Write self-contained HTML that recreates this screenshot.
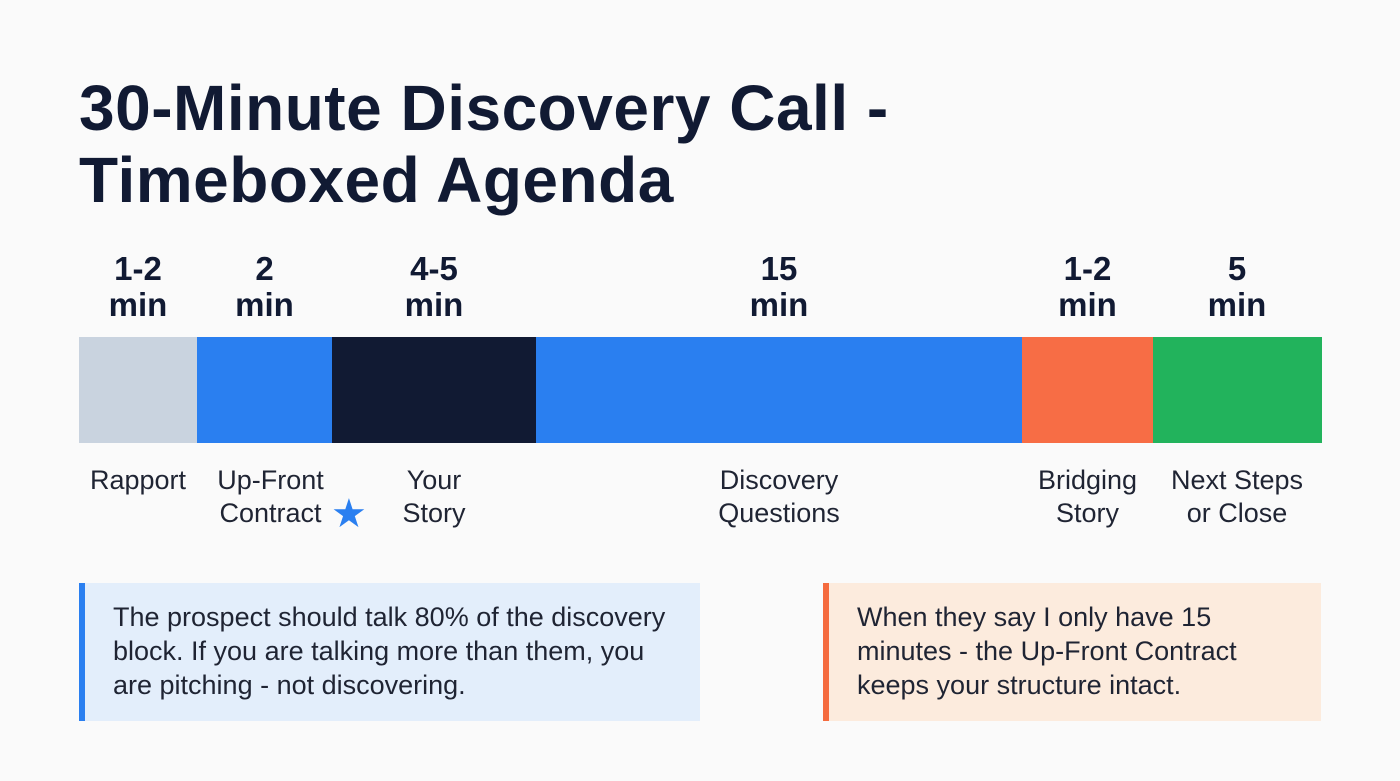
<!DOCTYPE html>
<html><head><meta charset="utf-8"><style>
body{margin:0;width:1400px;height:781px;background:#fafafa;font-family:"Liberation Sans",sans-serif;color:#111a33;position:relative;overflow:hidden}
h1{position:absolute;left:79px;top:72px;margin:0;font-size:64px;line-height:72px;font-weight:bold;color:#111a33;letter-spacing:0.5px}
.dur{position:absolute;top:251px;font-size:33px;font-weight:bold;line-height:36px;text-align:center;transform:translateX(-50%);white-space:nowrap}
.seg{position:absolute;top:337px;height:106px}
.lab{position:absolute;top:464px;font-size:27px;line-height:33px;text-align:center;transform:translateX(-50%);white-space:nowrap;color:#1f2433}
.box{position:absolute;top:583px;height:138px;box-sizing:border-box;padding:17px 0 0 28px;font-size:27px;line-height:34px;color:#1f2433}
</style></head><body>
<h1>30-Minute Discovery Call -<br>Timeboxed Agenda</h1>
<div id="chart"></div>
<div class="box" style="left:79px;width:621px;background:#e3eefb;border-left:6px solid #2a7ff0">The prospect should talk 80% of the discovery<br>block. If you are talking more than them, you<br>are pitching - not discovering.</div>
<div class="box" style="left:823px;width:498px;background:#fcebdd;border-left:6px solid #f56b3e;padding-left:28px">When they say I only have 15<br>minutes - the Up-Front Contract<br>keeps your structure intact.</div>
<script>
const durations=["1-2<br>min","2<br>min","4-5<br>min","15<br>min","1-2<br>min","5<br>min"];
const labels=["Rapport","Up-Front<br>Contract","Your<br>Story","Discovery<br>Questions","Bridging<br>Story","Next Steps<br>or Close"];
const weights=[118,135,204,486,131,168];
const colors=["#c9d3df","#2a7ff0","#111a33","#2a7ff0","#f76d45","#22b35c"];
const x0=79,x1=1321;
const total=weights.reduce((a,b)=>a+b,0);
const sx=v=>v*(x1-x0)/total;
const c=document.getElementById('chart');
let x=x0;
weights.forEach((w,i)=>{
  const wd=sx(w),cx=x+wd/2;
  const s=document.createElement('div');s.className='seg';
  
  
  s.style.left=x+'px';s.style.width=(wd+0.5)+'px';s.style.background=colors[i];c.appendChild(s);
  const d=document.createElement('div');d.className='dur';
  
  
  d.style.left=cx+'px';d.innerHTML=durations[i];c.appendChild(d);
  const l=document.createElement('div');l.className='lab';
  
  
  l.style.left=(i==1?cx+6:cx)+'px';l.innerHTML=labels[i];c.appendChild(l);
  if(i==1){const st=document.createElement('div');
    
    
    st.style.cssText='position:absolute;left:331px;top:494px;font-size:40px;line-height:40px;color:#2a7ff0';st.textContent='★';c.appendChild(st);}
  x+=wd;
});
</script>
</body></html>
